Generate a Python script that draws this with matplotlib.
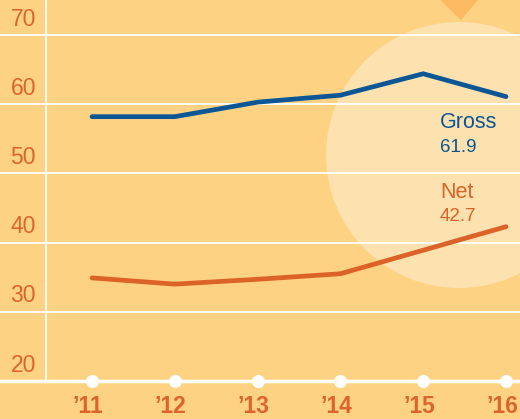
import matplotlib
matplotlib.use('Agg')
from matplotlib import pyplot as plt
from matplotlib.patches import Ellipse, Polygon

plt.rcParams['font.family'] = ['Liberation Sans', 'DejaVu Sans']

years = ['\u201911', '\u201912', '\u201913', '\u201914', '\u201915', '\u201916']
gross = [58.2, 58.2, 60.3, 61.3, 64.4, 61.1]
net = [34.9, 34.0, 34.7, 35.5, 38.9, 42.3]
yticks = [20, 30, 40, 50, 60, 70]
gross_label = ['Gross', '61.9']
net_label = ['Net', '42.7']

bg = '#fdd383'
blue = '#0b5694'
orange = '#dc6227'

fig = plt.figure(figsize=(5.2, 4.19), dpi=100, facecolor=bg)
ax = fig.add_axes([0, 0, 1, 1])
ax.set_facecolor(bg)
ax.set_xlim(-1.111, 5.169)
ax.set_ylim(14.51, 75.06)
ax.axis('off')

# decoracion: circulo claro y triangulo arriba
ax.add_patch(Ellipse((459/520, 1-155/419), 266/520, 266/419, transform=ax.transAxes,
                     color='#fde1ae', lw=0, zorder=1))
ax.add_patch(Polygon([(440/520, 1), (478/520, 1), (461/520, 1-20/419)], closed=True,
                     transform=ax.transAxes, color='#fdb962', lw=0, zorder=1))

# grilla
xs = list(range(len(years)))
for v in yticks[1:]:
    ax.axhline(v, color='white', lw=1.3, zorder=2)
for v in yticks:
    ax.text(-1.111 + 36/82.8, v + 0.65, str(v), ha='right', va='bottom',
            fontsize=16.5, color='#dd652c', zorder=3)
ax.axhline(20, color='white', lw=2.5, zorder=2)
ax.plot([-1.111 + 46/82.8]*2, [20, 75.06], color='white', lw=1.3, zorder=2)
ax.scatter(xs, [20]*len(xs), s=70, color='white', zorder=3, clip_on=False)
for x, lab in zip(xs, years):
    ax.text(x - 0.05, 14.6, lab, ha='center', va='bottom', fontsize=16.5,
            fontweight='bold', color='#dd652c')

# series
ax.plot(xs, gross, color=blue, lw=3.4, solid_capstyle='round',
        solid_joinstyle='miter', zorder=4)
ax.plot(xs, net, color=orange, lw=3.4, solid_capstyle='round',
        solid_joinstyle='miter', zorder=4)

lx = -1.111 + 440/82.8
ax.text(lx, 57.4, gross_label[0], fontsize=15.5, color=blue, va='center')
ax.text(lx, 53.8, gross_label[1], fontsize=13.5, color=blue, va='center')
ax.text(lx, 47.3, net_label[0], fontsize=15.5, color=orange, va='center')
ax.text(lx, 43.8, net_label[1], fontsize=13.5, color=orange, va='center')

fig.savefig('out.png', dpi=100, facecolor=bg)
